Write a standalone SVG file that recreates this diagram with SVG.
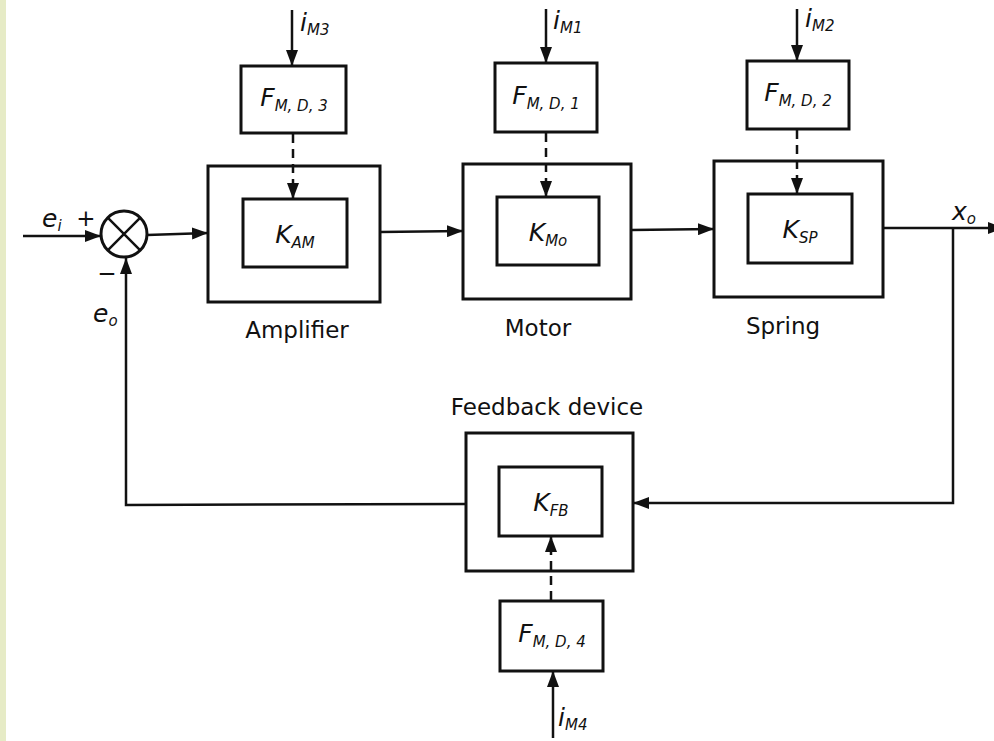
<svg xmlns="http://www.w3.org/2000/svg" width="994" height="741" viewBox="0 0 994 741">
<defs>
<marker id="arr" markerUnits="userSpaceOnUse" markerWidth="16" markerHeight="12" refX="16" refY="6" orient="auto">
<path d="M0,0 L16,6 L0,12 z" fill="#111"/>
</marker>
<style>
.box{fill:none;stroke:#111;stroke-width:3}
.ln{fill:none;stroke:#111;stroke-width:2.5}
.dash{stroke-dasharray:9 6}
.lbl{font-family:"DejaVu Sans","Liberation Sans",sans-serif;font-size:23px;fill:#111}
.m{font-family:"DejaVu Sans","Liberation Sans",sans-serif;font-style:italic;font-size:25px;fill:#111}
.s{font-size:15px}
</style>
</defs>
<rect x="0" y="0" width="994" height="741" fill="#fff"/>
<rect x="0" y="0" width="6" height="741" fill="#e6ebc6"/>

<g id="connectors">
<path class="ln" d="M23,236 L101,236" marker-end="url(#arr)"/>
<path class="ln" d="M147,235 L208,233" marker-end="url(#arr)"/>
<path class="ln" d="M380,232 L463,231" marker-end="url(#arr)"/>
<path class="ln" d="M631,230 L714,229" marker-end="url(#arr)"/>
<path class="ln" d="M883,228 L1004,228" marker-end="url(#arr)"/>
<path class="ln" d="M953,228 L953,503 L633,503" marker-end="url(#arr)"/>
<path class="ln" d="M466,504 L126,505 L126,258" marker-end="url(#arr)"/>
<path class="ln" d="M292,10 L292,66" marker-end="url(#arr)"/>
<path class="ln" d="M546,9 L546,63" marker-end="url(#arr)"/>
<path class="ln" d="M797,9 L797,61" marker-end="url(#arr)"/>
<path class="ln dash" d="M293,134 L293,199" marker-end="url(#arr)"/>
<path class="ln dash" d="M546,133 L546,197" marker-end="url(#arr)"/>
<path class="ln dash" d="M797,130 L797,194" marker-end="url(#arr)"/>
<path class="ln dash" d="M551,600 L551,536" marker-end="url(#arr)"/>
<path class="ln" d="M553,738 L553,671" marker-end="url(#arr)"/>
</g>

<g id="sum">
<circle cx="124" cy="234" r="23" fill="#fff" stroke="#111" stroke-width="3"/>
<path class="ln" d="M107.7,217.7 L140.3,250.3 M140.3,217.7 L107.7,250.3"/>
<text class="m" x="42" y="227">e<tspan class="s" dy="4">i</tspan></text>
<text class="lbl" x="86" y="226" text-anchor="middle">+</text>
<text class="lbl" x="107" y="281" text-anchor="middle">−</text>
<text class="m" x="93" y="322">e<tspan class="s" dy="4">o</tspan></text>
</g>

<g id="amplifier">
<rect class="box" x="208" y="166" width="172" height="136"/>
<rect class="box" x="243" y="199" width="104" height="68"/>
<text class="m" x="295" y="243" text-anchor="middle">K<tspan class="s" dy="5">AM</tspan></text>
<text class="lbl" x="297" y="338" text-anchor="middle">Amplifier</text>
</g>
<g id="fmd3">
<rect class="box" x="241" y="66" width="105" height="67"/>
<text class="m" x="294" y="106" text-anchor="middle">F<tspan class="s" dy="5">M, D, 3</tspan></text>
<text class="m" x="300" y="31">i<tspan class="s" dy="4">M3</tspan></text>
</g>

<g id="motor">
<rect class="box" x="463" y="164" width="168" height="135"/>
<rect class="box" x="497" y="197" width="102" height="68"/>
<text class="m" x="548" y="241" text-anchor="middle">K<tspan class="s" dy="5">Mo</tspan></text>
<text class="lbl" x="538" y="336" text-anchor="middle">Motor</text>
</g>
<g id="fmd1">
<rect class="box" x="495" y="63" width="102" height="69"/>
<text class="m" x="546" y="104" text-anchor="middle">F<tspan class="s" dy="5">M, D, 1</tspan></text>
<text class="m" x="553" y="29">i<tspan class="s" dy="4">M1</tspan></text>
</g>

<g id="spring">
<rect class="box" x="714" y="161" width="169" height="136"/>
<rect class="box" x="748" y="194" width="104" height="69"/>
<text class="m" x="800" y="238" text-anchor="middle">K<tspan class="s" dy="5">SP</tspan></text>
<text class="lbl" x="783" y="334" text-anchor="middle">Spring</text>
<text class="m" x="952" y="220">x<tspan class="s" dy="4">o</tspan></text>
</g>
<g id="fmd2">
<rect class="box" x="747" y="61" width="102" height="68"/>
<text class="m" x="798" y="101" text-anchor="middle">F<tspan class="s" dy="5">M, D, 2</tspan></text>
<text class="m" x="805" y="27">i<tspan class="s" dy="4">M2</tspan></text>
</g>

<g id="feedback">
<rect class="box" x="466" y="433" width="167" height="138"/>
<rect class="box" x="499" y="467" width="103" height="69"/>
<text class="m" x="551" y="511" text-anchor="middle">K<tspan class="s" dy="5">FB</tspan></text>
<text class="lbl" x="547" y="415" text-anchor="middle">Feedback device</text>
</g>
<g id="fmd4">
<rect class="box" x="500" y="601" width="103" height="70"/>
<text class="m" x="552" y="642" text-anchor="middle">F<tspan class="s" dy="5">M, D, 4</tspan></text>
<text class="m" x="558" y="726">i<tspan class="s" dy="4">M4</tspan></text>
</g>
</svg>
